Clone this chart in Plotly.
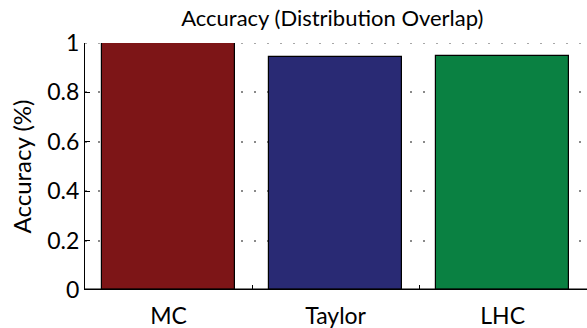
import plotly.graph_objects as go

categories = ["MC", "Taylor", "LHC"]
accuracy = [1.0, 0.945, 0.947]
bar_colors = ["#7d1517", "#292a74", "#0a8142"]
ytick_vals = [0, 0.2, 0.4, 0.6, 0.8, 1.0]
ytick_text = ["0", "0.2", "0.4", "0.6", "0.8", "1"]

FONT = "Lato"
GRID = "#8a8a8a"
xpos = list(range(1, len(categories) + 1))

fig = go.Figure()
fig.add_trace(go.Bar(
    x=xpos, y=accuracy, width=0.8,
    marker=dict(color=bar_colors, line=dict(color="black", width=1.2)),
    showlegend=False,
))

fig.update_layout(
    width=587, height=328,
    margin=dict(l=85, r=0, t=43, b=38),
    paper_bgcolor="white", plot_bgcolor="white",
    font=dict(family=FONT, color="black", size=23),
    title=dict(text="Accuracy (Distribution Overlap)", x=0.566, xanchor="center",
               y=0.945, yanchor="middle", font=dict(size=22, family=FONT)),
    bargap=0,
)
fig.update_xaxes(
    range=[0.5, 3.505], tickvals=xpos, ticktext=categories,
    ticks="", showgrid=False, zeroline=False,
    showline=False, ticklabelstandoff=10,
    tickfont=dict(size=23),
    minor=dict(tickvals=[1.5, 2.5], ticks="inside", ticklen=5, tickcolor="black", tickwidth=1, showgrid=False),
)
fig.update_yaxes(
    range=[0, 1], tickvals=ytick_vals, ticktext=ytick_text,
    ticks="inside", ticklen=5, tickcolor="black", tickwidth=1,
    showline=True, linecolor="black", linewidth=1.2,
    showgrid=True, gridcolor=GRID, griddash="2px,11px", gridwidth=1.5,
    zeroline=False, tickfont=dict(size=23),
    title=dict(text="Accuracy (%)", font=dict(size=24), standoff=8),
)
# top dotted gridline at the range edge
fig.add_shape(type="line", xref="paper", yref="y", x0=0, x1=1, y0=ytick_vals[-1], y1=ytick_vals[-1],
              line=dict(color=GRID, width=1.5, dash="2px,11px"), layer="below")
# thick bottom axis line
fig.add_shape(type="line", xref="paper", yref="y", x0=0, x1=1, y0=0, y1=0,
              line=dict(color="black", width=3), layer="above")

fig.write_html("out.html", config={"displayModeBar": False},
               post_script="document.body.style.margin='0';document.body.style.overflow='hidden';")
